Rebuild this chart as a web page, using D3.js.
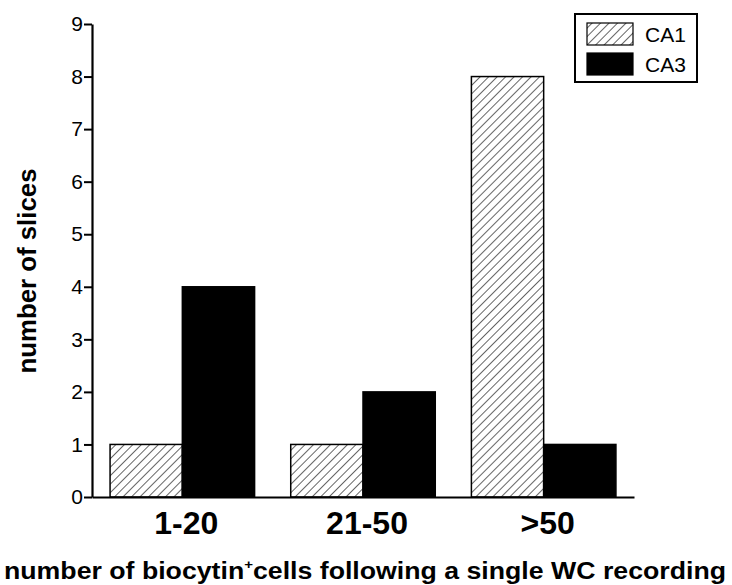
<!DOCTYPE html>
<html>
<head>
<meta charset="utf-8">
<script src="https://cdn.jsdelivr.net/npm/d3@7"></script>
<style>
  body { margin: 0; background: #fff; }
  text { font-family: "Liberation Sans", Arial, sans-serif; }
</style>
</head>
<body>
<div id="chart"></div>
<script>
const width = 732;
const height = 585;

// data
const categories = ['1-20', '21-50', '>50'];
const seriesNames = ['CA1', 'CA3'];
const ca1Values = [1, 1, 8];
const ca3Values = [4, 2, 1];
const yTicks = [0, 1, 2, 3, 4, 5, 6, 7, 8, 9];

const margin = { top: 24, right: 98, bottom: 88, left: 92 };

const svg = d3.select('#chart')
  .append('svg')
  .attr('width', width)
  .attr('height', height);

// hatch pattern for CA1
const defs = svg.append('defs');
defs.append('pattern')
  .attr('id', 'hatch')
  .attr('patternUnits', 'userSpaceOnUse')
  .attr('width', 6)
  .attr('height', 6)
  .attr('patternTransform', 'rotate(45)')
  .call(p => {
    p.append('rect').attr('width', 6).attr('height', 6).attr('fill', '#fff');
    p.append('line')
      .attr('x1', 0).attr('y1', 0).attr('x2', 0).attr('y2', 6)
      .attr('stroke', '#555').attr('stroke-width', 1.8);
  });

const x0 = d3.scaleBand()
  .domain(categories)
  .range([margin.left, width - margin.right])
  .paddingInner(0.2)
  .paddingOuter(0.1);

const x1 = d3.scaleBand()
  .domain(seriesNames)
  .range([0, x0.bandwidth()]);

const y = d3.scaleLinear()
  .domain([0, 9])
  .range([height - margin.bottom, margin.top]);

const rows = categories.map((c, i) => ({ cat: c, CA1: ca1Values[i], CA3: ca3Values[i] }));
const fills = { CA1: 'url(#hatch)', CA3: '#000' };

const g = svg.append('g')
  .selectAll('g')
  .data(rows)
  .join('g')
  .attr('transform', d => `translate(${x0(d.cat)},0)`);

g.selectAll('rect')
  .data(d => seriesNames.map(k => ({ key: k, value: d[k] })))
  .join('rect')
  .attr('x', d => x1(d.key))
  .attr('y', d => y(d.value))
  .attr('width', x1.bandwidth())
  .attr('height', d => y(0) - y(d.value))
  .attr('fill', d => fills[d.key])
  .attr('stroke', '#000')
  .attr('stroke-width', 1.5);

// y axis
const yAxis = svg.append('g')
  .attr('transform', `translate(${margin.left},0)`)
  .call(d3.axisLeft(y).tickValues(yTicks).tickSize(8).tickPadding(1).tickSizeOuter(0));
yAxis.select('.domain').attr('stroke-width', 2.2);
yAxis.selectAll('.tick line').attr('stroke-width', 2);
yAxis.selectAll('.tick text')
  .attr('font-size', 21)
  .attr('fill', '#000');

// x axis
const xAxis = svg.append('g')
  .attr('transform', `translate(0,${height - margin.bottom})`)
  .call(d3.axisBottom(x0).tickSize(0).tickPadding(14).tickSizeOuter(0));
xAxis.select('.domain').attr('stroke-width', 2.2);
xAxis.selectAll('.tick text')
  .attr('font-size', 32)
  .attr('font-weight', 'bold')
  .attr('dx', 4)
  .attr('fill', '#000');

// axis titles
svg.append('text')
  .attr('transform', 'translate(36,271) rotate(-90)')
  .attr('text-anchor', 'middle')
  .attr('font-size', 26)
  .attr('font-weight', 'bold')
  .attr('textLength', 205)
  .attr('lengthAdjust', 'spacingAndGlyphs')
  .text('number of slices');

const xt = svg.append('text')
  .attr('x', 4)
  .attr('y', 579)
  .attr('font-size', 23)
  .attr('font-weight', 'bold')
  .attr('textLength', 722)
  .attr('lengthAdjust', 'spacingAndGlyphs');
xt.append('tspan').text('number of biocytin');
xt.append('tspan').attr('font-size', 13).attr('dy', -10).text('+');
xt.append('tspan').attr('dy', 10).text('cells following a single WC recording');

// legend
const legend = svg.append('g').attr('transform', 'translate(575,14)');
legend.append('rect')
  .attr('width', 122).attr('height', 68)
  .attr('fill', '#fff').attr('stroke', '#000').attr('stroke-width', 2);
seriesNames.forEach((k, i) => {
  legend.append('rect')
    .attr('x', 12).attr('y', 9 + i * 30)
    .attr('width', 46).attr('height', 22)
    .attr('fill', fills[k]).attr('stroke', '#000').attr('stroke-width', 1.2);
  legend.append('text')
    .attr('x', 70).attr('y', 28 + i * 30)
    .attr('font-size', 21)
    .text(k);
});
</script>
</body>
</html>
